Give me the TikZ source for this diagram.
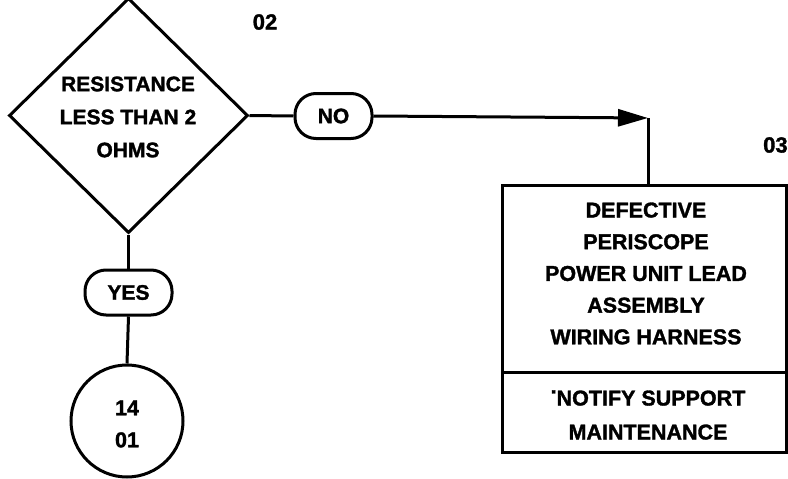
\documentclass[tikz,border=0pt]{standalone}
\usepackage{fontspec}
\setmainfont{Liberation Sans}[BoldFeatures={FakeBold=1.5}]
\usetikzlibrary{shapes.geometric,arrows.meta}
\begin{document}
\begin{tikzpicture}[x=1pt,y=-1pt,
  every node/.style={font=\bfseries},
  ln/.style={line width=3pt},
  pill/.style={draw,line width=3pt,rounded corners=21pt,minimum height=45pt,inner sep=0pt,font=\fontsize{21}{24}\selectfont\bfseries},
  dec/.style={draw,diamond,line width=3pt,minimum width=239pt,minimum height=235pt,inner sep=0pt},
  boxpart/.style={draw,rectangle,line width=3pt,minimum width=284pt,inner sep=0pt},
  txt/.style={align=center,inner sep=0pt},
  tag/.style={font=\fontsize{22}{24}\selectfont\bfseries,inner sep=0pt}]
\useasboundingbox (0,0) rectangle (788,479);
\node[dec] (d) at (128.5,115.5) {};
\node[txt,font=\fontsize{21}{33}\selectfont\bfseries] (dt) at (128,117) {RESISTANCE\\LESS THAN 2\\OHMS};
\node[tag] (t02) at (265,22) {02};
\node[pill,minimum width=77pt] (no) at (333.5,116) {NO};
\node[pill,minimum width=87pt] (yes) at (128.5,292.5) {YES};
\node[draw,circle,line width=3pt,minimum size=112pt,inner sep=0pt] (c) at (127,421) {};
\node[txt,font=\fontsize{21.5}{32}\selectfont\bfseries] (ct) at (127,424) {14\\01};
\node[boxpart,minimum height=187pt] (up) at (644,278.5) {};
\node[boxpart,minimum height=80pt] (lo) at (644,412) {};
\node[txt,font=\fontsize{21.5}{31.7}\selectfont\bfseries] (ut) at (646,273.5) {DEFECTIVE\\PERISCOPE\\POWER UNIT LEAD\\ASSEMBLY\\WIRING HARNESS};
\node[txt,font=\fontsize{21.5}{34}\selectfont\bfseries] (lt) at (648,415) {\raisebox{0.56em}{.}NOTIFY SUPPORT\\MAINTENANCE};
\node[tag,anchor=west] (t03) at (763,145) {03};
\coordinate (corner) at (648,118);
\draw[ln] (d.east) -- (no.west);
\draw[ln,-{Triangle[length=30pt,width=17pt]}] (no.east) -- (corner);
\draw[ln] (corner) -- (corner |- up.north);
\draw[ln] (d.south) -- (yes.north);
\draw[ln] (yes.south) -- (c.north);
\end{tikzpicture}
\end{document}
